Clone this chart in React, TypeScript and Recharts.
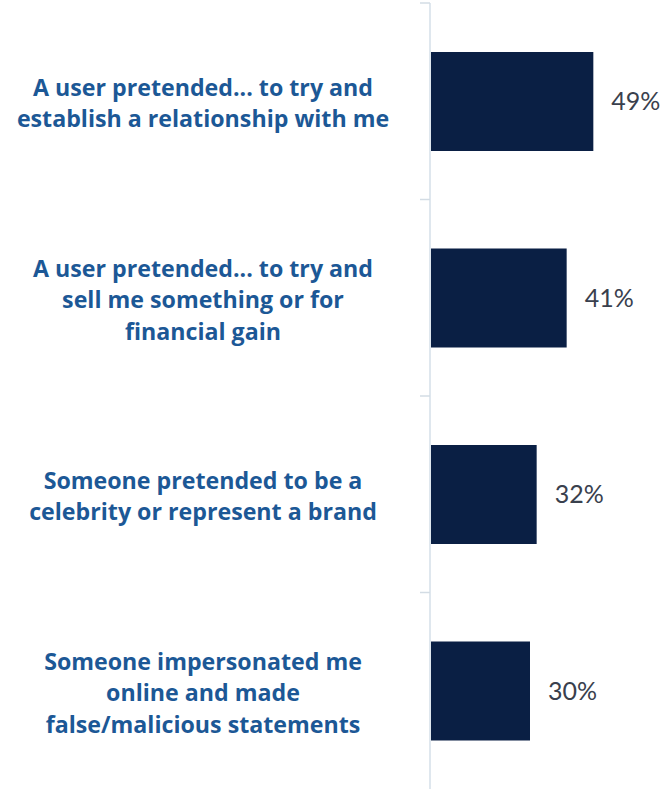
import { BarChart, Bar, XAxis, YAxis, LabelList } from "recharts";

const categories = [
  ["A user pretended... to try and", "establish a relationship with me"],
  ["A user pretended... to try and", "sell me something or for", "financial gain"],
  ["Someone pretended to be a", "celebrity or represent a brand"],
  ["Someone impersonated me", "online and made", "false/malicious statements"],
];
const shares = [49, 41, 32, 30];

const data = categories.map((lines, i) => ({
  name: lines.join(" "),
  lines,
  value: shares[i],
}));

const W = 667;
const H = 789;
const TOP = 3;
const AXIS_W = 430;
const BAND = (H - TOP) / categories.length;
const LINE_H = 31.5;

const CategoryTick = (props: any) => {
  const { y, payload } = props;
  const lines: string[] = data[payload.index]?.lines ?? [payload.value];
  const start = -((lines.length - 1) / 2) * LINE_H;
  return (
    <g>
      <line x1={AXIS_W - 10} x2={AXIS_W} y1={y - BAND / 2} y2={y - BAND / 2} stroke="#d3dce4" strokeWidth={1.5} />
      <text
        x={203}
        y={y}
        textAnchor="middle"
        fill="#1c5896"
        fontFamily="'Open Sans', Lato, sans-serif"
        fontWeight={700}
        fontSize={23.2}
      >
        {lines.map((l, i) => (
          <tspan key={i} x={203} y={y + 2 + start + i * LINE_H} dy="0.36em">
            {l}
          </tspan>
        ))}
      </text>
    </g>
  );
};

export default function App() {
  return (
    <div style={{ position: "absolute", left: 0, top: 0, background: "#fff" }}>
      <BarChart
        width={W}
        height={H}
        data={data}
        layout="vertical"
        margin={{ top: TOP, right: 37, left: 0, bottom: 0 }}
        barCategoryGap={0}
      >
        <XAxis type="number" domain={[0, 60]} hide />
        <YAxis
          type="category"
          dataKey="name"
          width={AXIS_W}
          axisLine={{ stroke: "#dfe7ee", strokeWidth: 2 }}
          tickLine={false}
          tick={<CategoryTick />}
          interval={0}
        />
        <Bar dataKey="value" fill="#0a1f44" barSize={99} isAnimationActive={false}>
          <LabelList
            dataKey="value"
            position="right"
            offset={18}
            formatter={(v: any) => `${v}%`}
            fill="#39404d"
            fontSize={25}
            fontFamily="Lato, 'Open Sans', sans-serif"
          />
        </Bar>
      </BarChart>
    </div>
  );
}
